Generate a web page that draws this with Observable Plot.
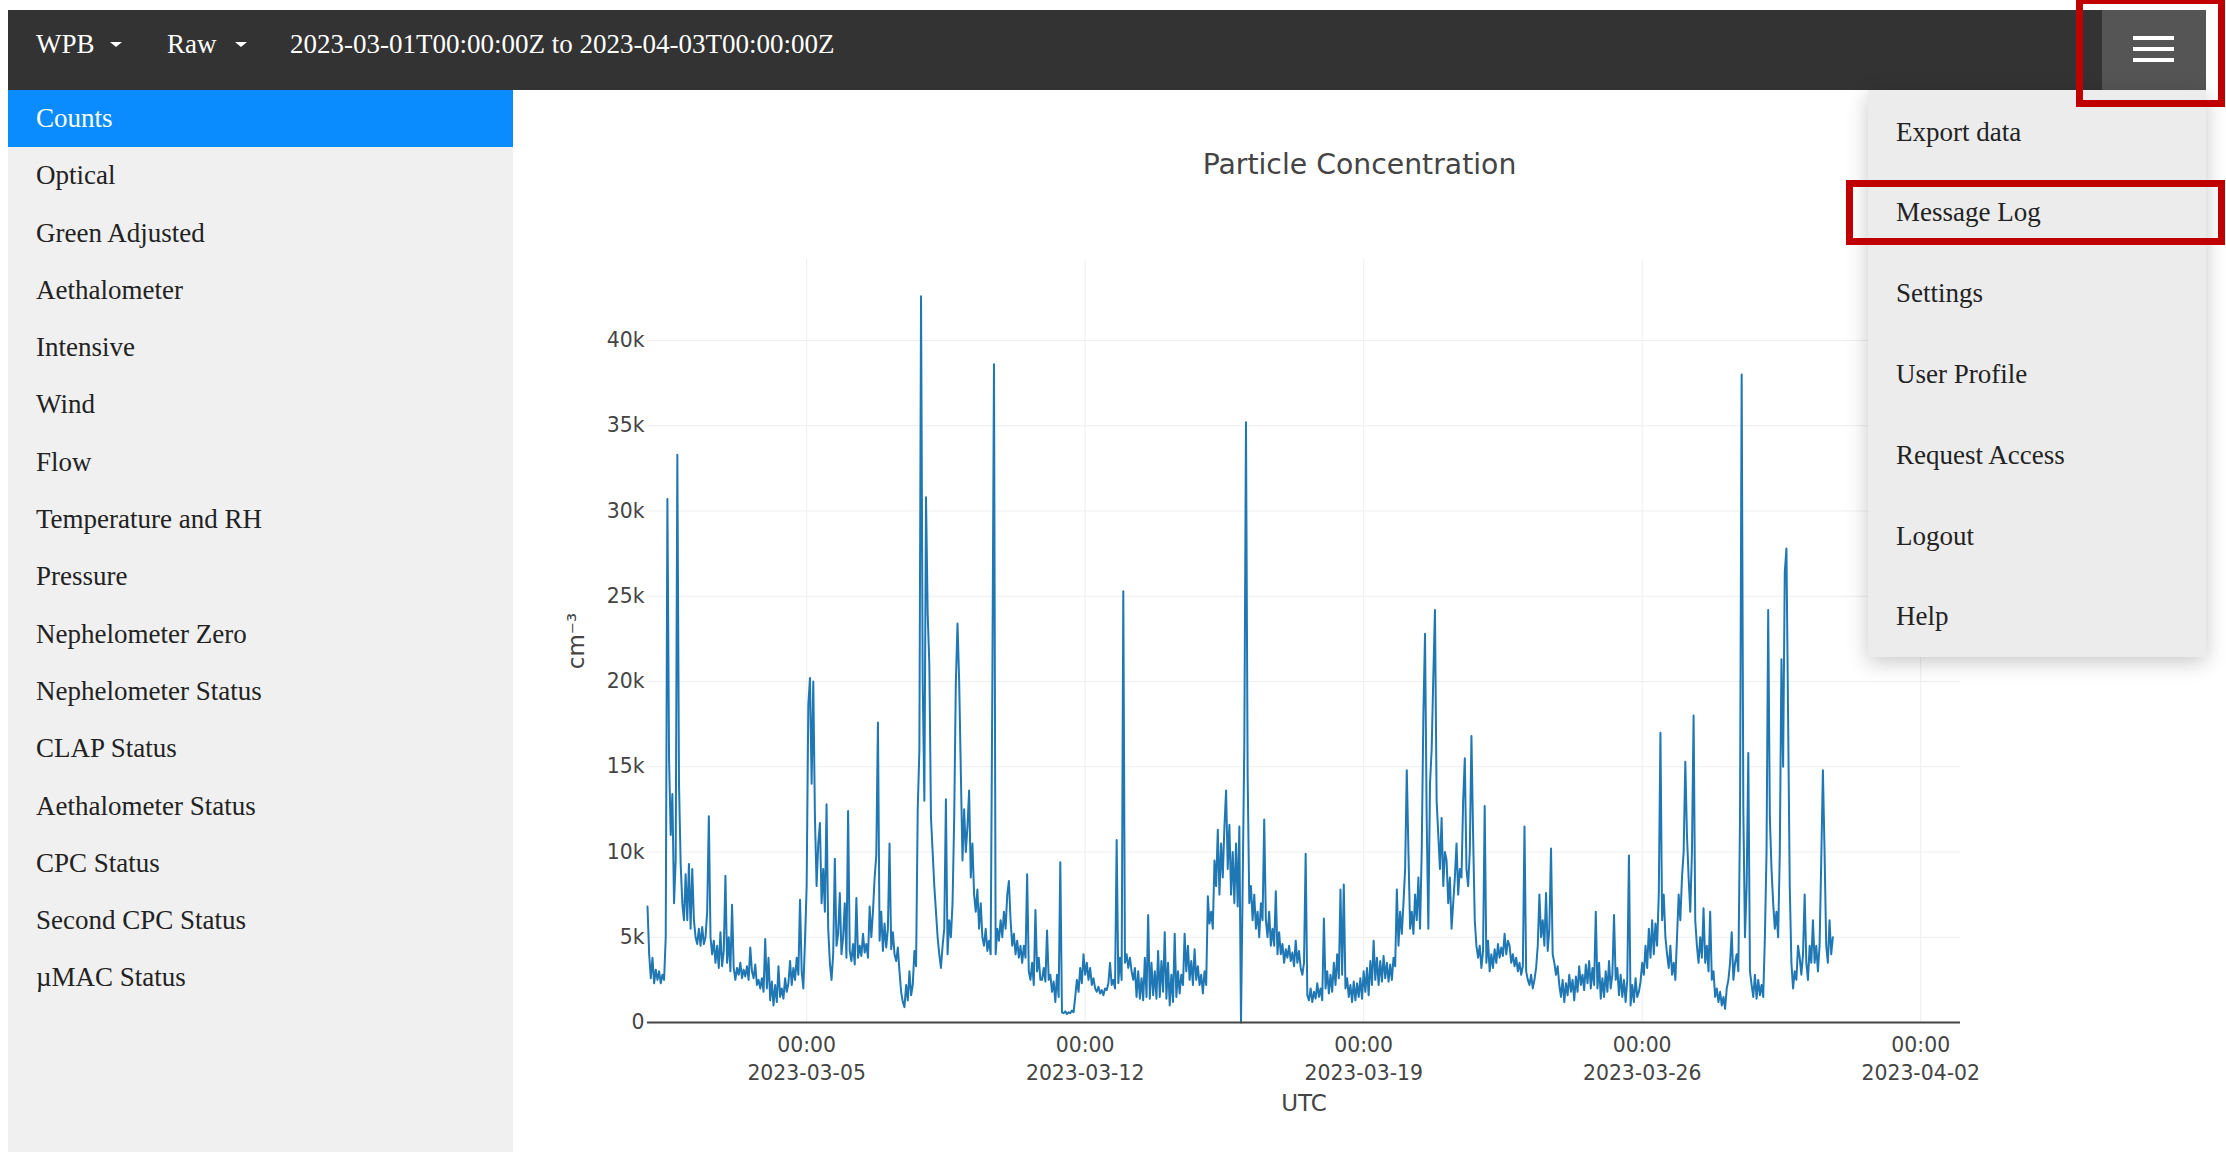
<!DOCTYPE html>
<html>
<head>
<meta charset="utf-8">
<script src="https://cdn.jsdelivr.net/npm/d3@7"></script>
<script src="https://cdn.jsdelivr.net/npm/@observablehq/plot@0.6"></script>
<style>
html, body { margin: 0; padding: 0; background: #fff; }
body { width: 2226px; height: 1152px; position: relative; overflow: hidden; font-family: "Liberation Serif", "Times New Roman", serif; }
#header { position: absolute; left: 8px; top: 10px; width: 2198px; height: 80px; background: #333; }
.htext { position: absolute; top: 19px; line-height: 30px; font-size: 27px; color: #fff; white-space: nowrap; }
.caret { position: absolute; top: 32px; width: 0; height: 0; border-left: 6.5px solid transparent; border-right: 6.5px solid transparent; border-top: 5px solid #fff; }
#burger { position: absolute; left: 2102px; top: 10px; width: 104px; height: 80px; background: #555; }
.bline { position: absolute; left: 31px; width: 41px; height: 4px; background: #fff; }
#sidebar { position: absolute; left: 8px; top: 90px; width: 505px; height: 1062px; background: #f0f0f0; }
.sitem { height: 57.3px; line-height: 57.3px; padding-left: 28px; font-size: 27px; color: #222; white-space: nowrap; }
.sitem.active { background: #0a8cff; color: #fff; }
#title { position: absolute; left: 513px; width: 1693px; top: 151px; line-height: 27px; text-align: center; font-family: "DejaVu Sans", Verdana, sans-serif; font-size: 28.3px; color: #444; }
#chart { position: absolute; left: 513px; top: 91px; }
#menu { position: absolute; left: 1868px; top: 90px; width: 338px; height: 567px; background: #ececec; box-shadow: 0 5px 20px rgba(0,0,0,0.22); padding-top: 1.7px; box-sizing: border-box; }
.mitem { height: 80.8px; line-height: 80.8px; padding-left: 28px; font-size: 27px; color: #222; white-space: nowrap; }
.redbox { position: absolute; border: 7px solid #c00000; box-sizing: border-box; }
#chart svg g[aria-label="y-axis label"] text, #chart svg g[aria-label="x-axis label"] text { font-size: 23px; }
</style>
</head>
<body>
<div id="header">
  <span class="htext" style="left:28px">WPB</span>
  <span class="caret" style="left:102px"></span>
  <span class="htext" style="left:159px">Raw</span>
  <span class="caret" style="left:227px"></span>
  <span class="htext" style="left:282px" id="range"></span>
</div>
<div id="burger">
  <div class="bline" style="top:26px"></div>
  <div class="bline" style="top:37px"></div>
  <div class="bline" style="top:48px"></div>
</div>
<div id="sidebar"></div>
<div id="title"></div>
<div id="chart"></div>
<div id="menu"></div>
<div class="redbox" style="left:2076px; top:-3px; width:149px; height:110px;"></div>
<div class="redbox" style="left:1846px; top:180px; width:379px; height:65px;"></div>

<script>
// ---------- Data (hourly values, cm^-3) ----------
const seriesStart = "2023-03-01T00:00:00Z";
const stepHours = 1;

const march01to07 = [
  6800,4000,2600,3800,2300,3100,2500,3000,2300,2800,2500,5000,30700,15500,11000,13400,7000,9500,33300,14000,9300,7000,6000,8700,
  6000,9300,5500,9000,6000,5000,4600,5500,4500,5600,4600,5000,6500,12100,5000,4000,4800,3500,4500,3200,5300,3300,4200,8600,
  3500,5000,3000,6900,3200,2500,3200,2800,3500,2600,3100,2700,3300,2500,4400,3000,2600,3400,2200,2500,2000,2600,1800,4900,
  2000,3800,1300,2400,1000,2200,1200,3300,1500,2000,1400,2600,1800,2300,3600,2200,3200,2500,3800,2800,7200,3000,2000,4800,
  8000,18600,20200,14000,20000,12000,8000,10500,11700,7000,9000,6500,12800,5500,3500,2500,4000,9600,4500,5200,7600,4000,5000,7000,
  3800,12400,4200,3600,4600,3400,7300,3800,4500,3900,5200,4100,4600,3800,6800,5000,6500,8500,9800,17600,4800,6500,4200,5800,
  4400,5500,10500,4300,5300,4000,3600,4400,3000,1800,1200,900,2200,1300,3000,1600,2200,4200,3300,12500,16000,42600,20000,13000
];
const march08to14 = [
  30800,24000,21000,12000,10000,8000,6500,5000,4000,3200,4500,5500,13100,4000,6000,5000,7000,12000,20000,23400,20000,14700,9500,12500,
  10000,11500,13600,8500,10500,7500,6500,7800,5500,7000,5000,4500,5500,4200,4800,4000,19700,38600,4000,5500,4800,6000,5000,6500,
  5500,7500,8300,6000,4500,5200,4000,4800,3800,4500,3500,4500,3800,8700,3000,2500,3500,2200,6600,3000,3800,2500,2500,3200,
  2400,5400,2500,2800,1800,2400,1200,2800,1500,9400,600,550,650,500,600,550,700,600,1500,2500,1800,3200,2300,4000,
  2800,3500,2500,3200,2200,2600,2000,1800,2100,1700,1900,1600,2000,1900,2300,3500,2200,2500,2000,10700,2300,3800,2500,25300,
  3500,4000,3200,3800,3000,2500,3200,1500,3000,1400,2600,1300,3800,1500,6300,1400,3500,1600,3000,1400,4200,1500,3600,1800,
  5300,1400,3500,1000,2800,1200,5200,1500,3000,1700,2800,2200,5200,3000,4500,2500,3600,2200,4300,2500,3300,2200,2800,1700
];
const march15to21 = [
  3000,2200,7400,5800,6500,5500,9500,8000,11300,7500,10500,8500,11500,13600,9000,11600,7500,10000,7000,10500,6800,11500,0,8000,
  16300,35200,14500,7000,8000,6000,7500,5500,6500,5000,7000,6000,11900,6000,5000,6500,4500,5500,4500,7700,4000,5300,4000,4600,
  3500,4300,3800,4500,3600,4100,3300,4800,3500,4200,3200,2800,3500,9900,1600,1300,2000,1200,1800,1400,2300,1500,2000,1300,
  6100,2000,3000,1700,2800,1800,3500,2200,4000,2600,7800,2800,8100,2000,2600,1500,2200,1200,2400,1300,2300,1500,2600,1400,
  3000,1800,3200,1600,3600,2200,4800,2500,3800,2200,3600,2400,3900,2600,3500,2400,3400,2500,3800,3300,7800,4500,6500,5200,
  7000,9000,14800,10000,5500,6500,5200,7500,6000,8500,5500,10000,18000,22800,12000,5500,14000,16000,20300,24200,13000,11000,9000,12000,
  8000,10000,9500,7000,8500,5500,7000,8500,10500,7500,9000,8500,13000,15500,9000,8000,10000,16800,11000,6000,4500,3800,4500,3200
];
const march22to30 = [
  4200,12700,3500,4800,3000,4000,3200,4300,3500,4600,3800,4400,3900,5200,4000,4800,4500,3500,4000,3300,3800,3000,3500,2800,
  3300,11500,3000,2500,2200,2800,2000,2500,3200,4500,7500,5000,6000,4500,7600,4200,5500,10200,4000,3500,2800,3300,2200,1500,
  2500,1200,2300,1600,2800,1800,2500,1300,2700,1800,3300,2200,2800,1900,3400,2300,3600,2000,3200,2200,6500,2000,3500,1400,
  2600,1500,3000,1800,3600,2000,2800,6300,2500,3200,1600,2800,1500,2500,1200,2500,9800,1000,2200,1200,2600,1500,1800,2400,
  3500,2800,4500,3200,5500,3800,6000,4000,5800,4500,7500,17000,6000,7500,5000,4000,3200,4500,2800,3500,2500,5000,7500,6000,
  8500,10000,15300,11000,8500,6500,10000,18000,6000,4500,3500,5000,3800,6700,3500,4500,3000,6500,2500,3000,1500,2000,1200,1800,
  1000,1500,800,2000,2500,3500,5300,2500,3500,4000,3000,12000,38000,12500,5000,8000,15800,3000,2200,1500,2800,1400,2500,1600,
  2200,1500,5000,10000,24200,12000,9000,7000,5500,6500,5000,10000,21300,15000,26400,27800,18000,8000,3500,2000,3000,2500,4500,3800,
  2800,4000,7500,3500,2500,4500,3500,6000,3500,4500,3000,4500,9500,14800,10000,4500,3500,6000,4000,5000
];

// ---------- Axes / text ----------
const xDomain = ["2023-03-01T00:00:00Z", "2023-04-03T00:00:00Z"];
const xTickDates = ["2023-03-05", "2023-03-12", "2023-03-19", "2023-03-26", "2023-04-02"];
const xTickTime = "00:00";
const yMax = 44750;
const yTickValues = [0, 5000, 10000, 15000, 20000, 25000, 30000, 35000, 40000];
const yTickLabels = ["0", "5k", "10k", "15k", "20k", "25k", "30k", "35k", "40k"];
const titleText = "Particle Concentration";
const xLabel = "UTC";
const yLabel = "cm\u207B\u00B3";
const rangeText = "2023-03-01T00:00:00Z to 2023-04-03T00:00:00Z";
const sidebarItems = ["Counts", "Optical", "Green Adjusted", "Aethalometer", "Intensive", "Wind", "Flow",
  "Temperature and RH", "Pressure", "Nephelometer Zero", "Nephelometer Status", "CLAP Status",
  "Aethalometer Status", "CPC Status", "Second CPC Status", "\u00B5MAC Status"];
const menuItems = ["Export data", "Message Log", "Settings", "User Profile", "Request Access", "Logout", "Help"];

// ---------- Page chrome ----------
document.getElementById("range").textContent = rangeText;
document.getElementById("title").textContent = titleText;
const sb = document.getElementById("sidebar");
sidebarItems.forEach((t, i) => {
  const d = document.createElement("div");
  d.className = "sitem" + (i === 0 ? " active" : "");
  d.textContent = t;
  sb.appendChild(d);
});
const mn = document.getElementById("menu");
menuItems.forEach(t => {
  const d = document.createElement("div");
  d.className = "mitem";
  d.textContent = t;
  mn.appendChild(d);
});

// ---------- Chart ----------
const values = [...march01to07, ...march08to14, ...march15to21, ...march22to30];
const t0 = new Date(seriesStart).getTime();
const data = values.map((v, i) => ({time: new Date(t0 + i * stepHours * 3600e3), value: v}));
const xTicks = xTickDates.map(d => new Date(d + "T00:00:00Z"));
const fmtDay = d3.utcFormat("%Y-%m-%d");

const chart = Plot.plot({
  width: 1693,
  height: 1061,
  marginLeft: 134,
  marginRight: 246,
  marginTop: 168,
  marginBottom: 130,
  style: {fontFamily: "DejaVu Sans, Verdana, sans-serif", fontSize: "20.4px", color: "#444", background: "transparent", overflow: "visible"},
  x: {type: "utc", domain: xDomain.map(d => new Date(d)), labelArrow: false},
  y: {domain: [0, yMax], labelArrow: false},
  marks: [
    Plot.gridY({ticks: yTickValues, stroke: "#eeeeee", strokeOpacity: 1, strokeWidth: 1}),
    Plot.gridX({ticks: xTicks, stroke: "#eeeeee", strokeOpacity: 1, strokeWidth: 1}),
    Plot.axisY({ticks: yTickValues, tickSize: 0, tickPadding: 3, fill: "#444",
      tickFormat: d => yTickLabels[yTickValues.indexOf(d)],
      label: yLabel, labelArrow: false, labelAnchor: "center", labelOffset: 80}),
    Plot.axisX({ticks: xTicks, tickSize: 0, tickPadding: 9, fill: "#444", lineHeight: 1.4,
      tickFormat: d => xTickTime + "\n" + fmtDay(d),
      label: xLabel, labelArrow: false, labelAnchor: "center", labelOffset: 88}),
    Plot.line(data, {x: "time", y: "value", stroke: "#1f77b4", strokeWidth: 2}),
    Plot.ruleY([0], {stroke: "#444", strokeWidth: 2})
  ]
});
document.getElementById("chart").appendChild(chart);
</script>
</body>
</html>
